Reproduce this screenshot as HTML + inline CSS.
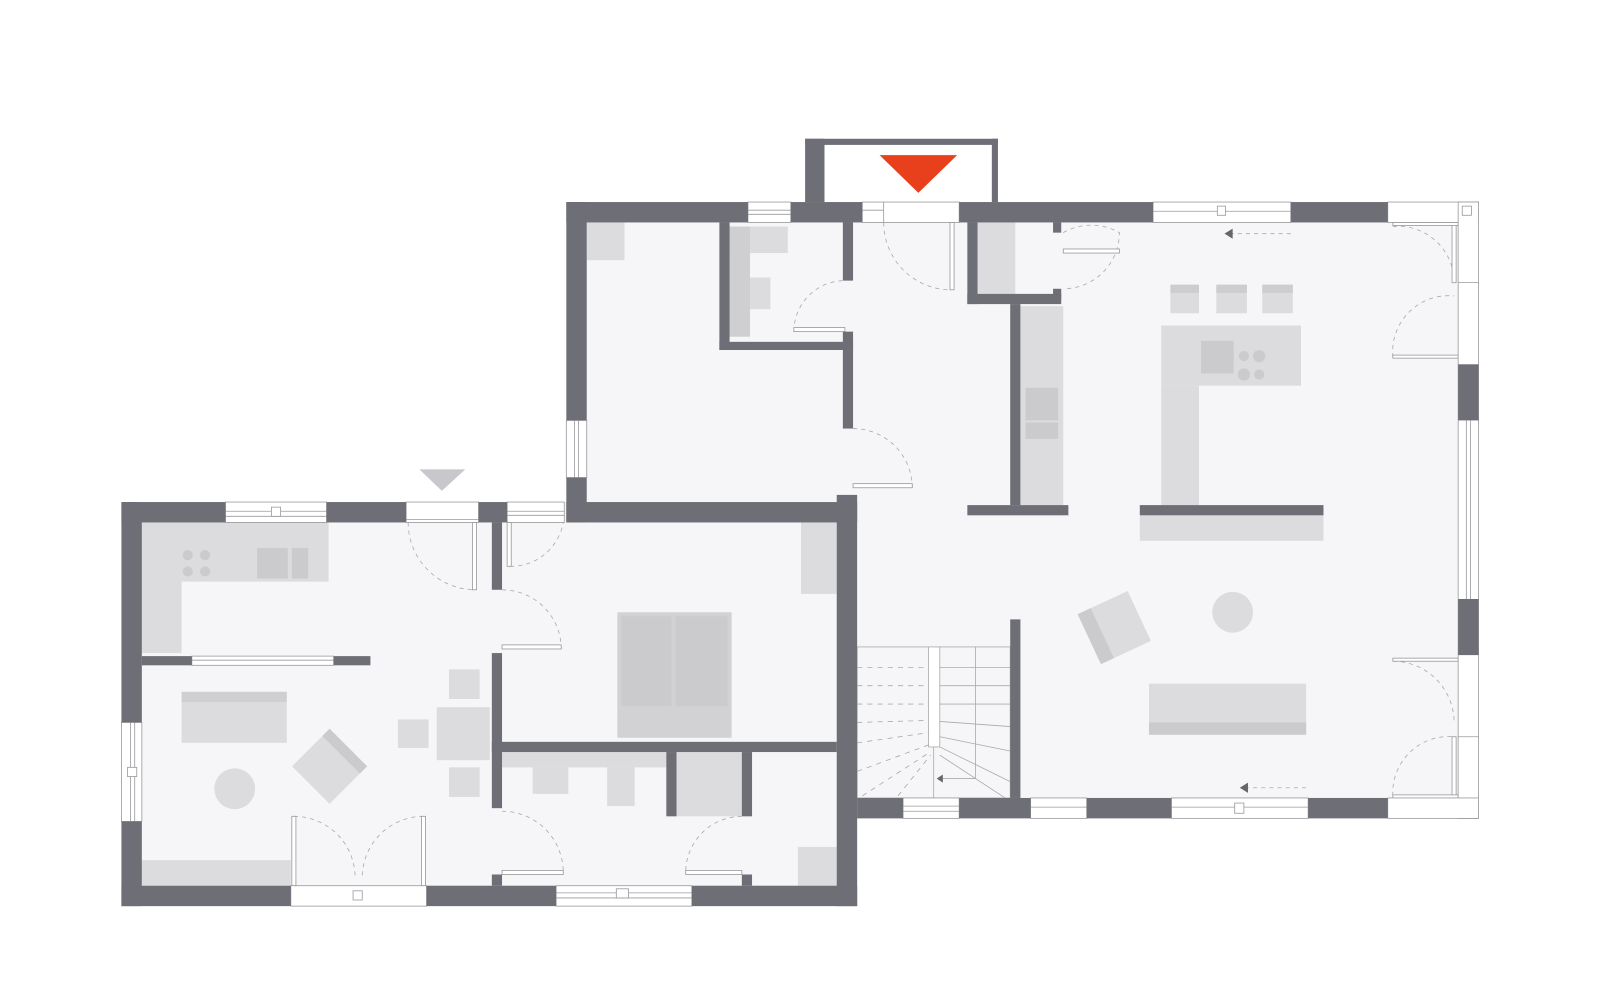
<!DOCTYPE html>
<html><head><meta charset="utf-8"><style>html,body{margin:0;padding:0;background:#fff}svg{display:block}</style></head>
<body>
<svg width="1600" height="1000" viewBox="0 0 1568 980" xmlns="http://www.w3.org/2000/svg">
<rect width="1568" height="980" fill="#fff"/>
<!-- floors -->
<polygon points="555,198 1449,198 1449,802 840,802 840,492 555,492" fill="#f6f6f8"/>
<rect x="119" y="492" width="721" height="396" fill="#f6f6f8"/>
<g fill="#dcdcdf">
<!-- upper middle -->
<rect x="575" y="218" width="37" height="37"/>
<rect x="715" y="222" width="57" height="26"/>
<rect x="715" y="222" width="20" height="108" fill="#cfcfd2"/>
<rect x="735" y="272" width="20" height="31"/>
<rect x="958" y="218" width="37" height="70"/>
<!-- kitchen right -->
<rect x="1000" y="300" width="42" height="195"/>
<rect x="1005" y="380" width="32" height="32" fill="#cbcbce"/>
<rect x="1005" y="414" width="32" height="16" fill="#cbcbce"/>
<rect x="1147" y="279" width="28" height="28"/><rect x="1147" y="279" width="28" height="8" fill="#cdcdd0"/>
<rect x="1192" y="279" width="30" height="28"/><rect x="1192" y="279" width="30" height="8" fill="#cdcdd0"/>
<rect x="1237" y="279" width="30" height="28"/><rect x="1237" y="279" width="30" height="8" fill="#cdcdd0"/>
<rect x="1138" y="319" width="137" height="59"/>
<rect x="1138" y="378" width="37" height="117"/>
<rect x="1177" y="334" width="32" height="32" fill="#cbcbce"/>
<circle cx="1219" cy="349" r="5" fill="#cbcbce"/><circle cx="1234" cy="349" r="6" fill="#cbcbce"/>
<circle cx="1219" cy="367" r="6" fill="#cbcbce"/><circle cx="1234" cy="367" r="5" fill="#cbcbce"/>
<rect x="1117" y="505" width="180" height="25"/>
<g transform="translate(1092,615) rotate(-25)"><rect x="-27" y="-27" width="54" height="54"/><rect x="-27" y="-27" width="14" height="54" fill="#cbcbce"/></g>
<circle cx="1208" cy="600" r="20"/>
<rect x="1126" y="670" width="154" height="50"/><rect x="1126" y="708" width="154" height="12" fill="#cbcbce"/>
<!-- left building -->
<rect x="139" y="512" width="183" height="58"/>
<rect x="139" y="512" width="39" height="128"/>
<circle cx="184" cy="544" r="5" fill="#cbcbce"/><circle cx="201" cy="544" r="5" fill="#cbcbce"/>
<circle cx="184" cy="560" r="5" fill="#cbcbce"/><circle cx="201" cy="560" r="5" fill="#cbcbce"/>
<rect x="252" y="537" width="30" height="30" fill="#cbcbce"/><rect x="286" y="537" width="16" height="30" fill="#cbcbce"/>
<rect x="785" y="512" width="35" height="70"/>
<rect x="605" y="600" width="112" height="123" fill="#d2d2d5"/>
<rect x="609" y="604" width="49" height="88" fill="#cbcbce"/><rect x="662" y="604" width="51" height="88" fill="#cbcbce"/>
<rect x="178" y="678" width="103" height="50"/><rect x="178" y="678" width="103" height="10" fill="#cfcfd2"/>
<g transform="translate(323,751) rotate(45)"><rect x="-26" y="-26" width="52" height="52"/><rect x="-26" y="-26" width="52" height="10" fill="#cbcbce"/></g>
<circle cx="230" cy="773" r="20"/>
<rect x="428" y="693" width="52" height="52"/>
<rect x="440" y="656" width="30" height="29"/><rect x="440" y="752" width="30" height="29"/>
<rect x="390" y="705" width="30" height="28"/>
<rect x="492" y="737" width="161" height="15"/>
<rect x="522" y="752" width="35" height="26"/>
<rect x="595" y="752" width="27" height="38"/>
<rect x="663" y="737" width="64" height="63"/>
<rect x="782" y="830" width="38" height="38"/>
<rect x="139" y="843" width="146" height="25"/>
</g>
<!-- stairs -->
<g stroke="#aaa" stroke-width="0.8" fill="none">
<rect x="840" y="634" width="150" height="148"/>
<rect x="910" y="634" width="11" height="98" fill="#fff"/>
<line x1="956" y1="634" x2="956" y2="763"/><line x1="921" y1="763" x2="956" y2="763"/>
<line x1="915" y1="732" x2="915" y2="782"/>
<line x1="921" y1="654" x2="990" y2="654"/><line x1="921" y1="672" x2="990" y2="672"/>
<line x1="921" y1="690" x2="990" y2="690"/><line x1="921" y1="707" x2="990" y2="712"/>
<line x1="921" y1="722" x2="990" y2="736"/><line x1="921" y1="732" x2="990" y2="766"/>
<line x1="921" y1="740" x2="985" y2="782"/>
<g stroke-dasharray="5,5"><line x1="840" y1="654" x2="910" y2="654"/><line x1="840" y1="672" x2="910" y2="672"/><line x1="840" y1="690" x2="910" y2="690"/><line x1="840" y1="708" x2="910" y2="706"/><line x1="840" y1="728" x2="910" y2="718"/><line x1="840" y1="756" x2="910" y2="730"/><line x1="845" y1="780" x2="910" y2="738"/><line x1="880" y1="780" x2="912" y2="740"/></g>
</g>
<polygon points="918,763 924,759 924,767" fill="#666"/>
<!-- door arcs -->
<g fill="none" stroke="#aaa" stroke-width="0.8" stroke-dasharray="4,4">
<path d="M866,218 A66,66 0 0 0 932,284"/>
<path d="M1042,228 A55,55 0 0 1 1097,228 A55,55 0 0 1 1042,283"/>
<path d="M778,325 A50,50 0 0 1 828,275"/>
<path d="M836,420 A58,58 0 0 1 894,478"/>
<path d="M400,512 A66,66 0 0 0 466,578"/>
<path d="M500,555 A52,52 0 0 0 552,512"/>
<path d="M492,578 A58,58 0 0 1 550,636"/>
<path d="M288,800 A60,60 0 0 1 348,860"/>
<path d="M415,800 A60,60 0 0 0 355,860"/>
<path d="M492,795 A60,60 0 0 1 552,855"/>
<path d="M727,800 A55,55 0 0 0 672,855"/>
<path d="M1365,222 A55,55 0 0 1 1425,275"/>
<path d="M1365,350 A55,55 0 0 1 1425,290"/>
<path d="M1365,648 A60,60 0 0 1 1425,708"/>
<path d="M1365,780 A55,55 0 0 1 1425,722"/>
<path d="M1205,229 L1265,229"/><path d="M1220,772 L1280,772"/>
</g>
<polygon points="1200,229 1208,224 1208,234" fill="#666"/>
<polygon points="1215,772 1223,767 1223,777" fill="#666"/>
<g fill="#fff" stroke="#999" stroke-width="0.8">
<rect x="931" y="218" width="4" height="66"/><rect x="463" y="512" width="4" height="66"/>
<rect x="497" y="512" width="4" height="43"/><rect x="1042" y="244" width="55" height="4"/>
<rect x="778" y="321" width="50" height="4"/><rect x="836" y="474" width="58" height="4"/>
<rect x="492" y="632" width="58" height="4"/><rect x="286" y="800" width="4" height="68"/><rect x="413" y="800" width="4" height="68"/>
<rect x="492" y="853" width="60" height="4"/><rect x="672" y="853" width="55" height="4"/>
<rect x="1423" y="215" width="4" height="62"/><rect x="1365" y="348" width="64" height="3"/><rect x="1365" y="645" width="64" height="3"/><rect x="1423" y="722" width="4" height="60"/>
<rect x="1365" y="218" width="64" height="3"/><rect x="1365" y="779" width="64" height="3"/>
</g>
<!-- windows (light gaps) -->
<g fill="#fff" stroke="#9a9a9e" stroke-width="0.8">
<rect x="733" y="198" width="42" height="20"/><line x1="733" y1="206" x2="775" y2="206"/><line x1="733" y1="210" x2="775" y2="210"/>
<rect x="845" y="198" width="95" height="20"/><line x1="845" y1="206" x2="866" y2="206"/><line x1="866" y1="198" x2="866" y2="218"/>
<rect x="1130" y="198" width="135" height="20"/><line x1="1130" y1="207" x2="1265" y2="207"/><rect x="1193" y="202" width="8" height="9"/>
<rect x="1360" y="198" width="89" height="20"/>
<rect x="1429" y="198" width="20" height="604"/>
<line x1="1429" y1="277" x2="1449" y2="277"/><line x1="1429" y1="722" x2="1449" y2="722"/>
<line x1="1437" y1="412" x2="1437" y2="587"/><line x1="1441" y1="412" x2="1441" y2="587"/>
<rect x="1433" y="202" width="9" height="9"/><rect x="1433" y="789" width="9" height="9"/>
<rect x="1360" y="782" width="89" height="20"/>
<rect x="885" y="782" width="55" height="20"/><line x1="885" y1="790" x2="940" y2="790"/><line x1="885" y1="795" x2="940" y2="795"/>
<rect x="1010" y="782" width="55" height="20"/><line x1="1010" y1="791" x2="1065" y2="791"/>
<rect x="1148" y="782" width="134" height="20"/><line x1="1148" y1="791" x2="1282" y2="791"/><rect x="1210" y="787" width="9" height="10"/>
<rect x="555" y="412" width="20" height="56"/><line x1="563" y1="412" x2="563" y2="468"/><line x1="567" y1="412" x2="567" y2="468"/>
<rect x="221" y="492" width="99" height="20"/><line x1="221" y1="501" x2="320" y2="501"/><line x1="221" y1="506" x2="320" y2="506"/><rect x="266" y="497" width="9" height="9"/>
<rect x="398" y="492" width="71" height="20"/><line x1="398" y1="509" x2="469" y2="509"/>
<rect x="497" y="492" width="56" height="20"/><line x1="497" y1="501" x2="553" y2="501"/><line x1="497" y1="505" x2="553" y2="505"/>
<rect x="119" y="708" width="20" height="97"/><line x1="128" y1="708" x2="128" y2="805"/><line x1="132" y1="708" x2="132" y2="805"/><rect x="125" y="752" width="9" height="9"/>
<rect x="285" y="868" width="133" height="20"/><rect x="346" y="873" width="9" height="9"/>
<rect x="545" y="868" width="133" height="20"/><line x1="545" y1="875" x2="678" y2="875"/><line x1="545" y1="880" x2="678" y2="880"/><rect x="604" y="871" width="12" height="9"/>
<rect x="188" y="643" width="139" height="9"/><line x1="188" y1="647" x2="327" y2="647"/>
</g>
<!-- walls -->
<g fill="#6e6e76">
<!-- porch -->
<rect x="789" y="136" width="19" height="62"/><rect x="789" y="136" width="189" height="6"/><rect x="972" y="136" width="6" height="62"/>
<!-- top wall upper -->
<rect x="555" y="198" width="178" height="20"/><rect x="775" y="198" width="70" height="20"/>
<rect x="940" y="198" width="190" height="20"/><rect x="1265" y="198" width="95" height="20"/>
<rect x="1429" y="357" width="20" height="55"/><rect x="1429" y="587" width="20" height="55"/>
<rect x="840" y="782" width="45" height="20"/><rect x="940" y="782" width="70" height="20"/><rect x="1065" y="782" width="83" height="20"/><rect x="1282" y="782" width="78" height="20"/>
<rect x="555" y="198" width="20" height="214"/><rect x="555" y="468" width="20" height="44"/>
<rect x="555" y="492" width="285" height="20"/>
<rect x="820" y="485" width="20" height="403"/>
<rect x="990" y="607" width="10" height="175"/>
<!-- upper interior -->
<rect x="705" y="218" width="10" height="125"/><rect x="705" y="335" width="131" height="8"/>
<rect x="826" y="218" width="10" height="57"/><rect x="826" y="325" width="10" height="95"/>
<rect x="948" y="218" width="10" height="80"/><rect x="948" y="288" width="92" height="10"/>
<rect x="1032" y="218" width="8" height="10"/><rect x="1032" y="283" width="8" height="10"/>
<rect x="990" y="298" width="10" height="197"/><rect x="948" y="495" width="99" height="10"/>
<rect x="1117" y="495" width="180" height="10"/>
<!-- left building -->
<rect x="119" y="492" width="102" height="20"/><rect x="320" y="492" width="78" height="20"/><rect x="469" y="492" width="28" height="20"/>
<rect x="119" y="492" width="20" height="216"/><rect x="119" y="805" width="20" height="83"/>
<rect x="119" y="868" width="166" height="20"/><rect x="418" y="868" width="127" height="20"/><rect x="678" y="868" width="162" height="20"/>
<rect x="139" y="643" width="49" height="9"/><rect x="327" y="643" width="36" height="9"/>
<rect x="482" y="512" width="10" height="66"/><rect x="482" y="640" width="10" height="152"/>
<rect x="482" y="727" width="338" height="10"/>
<rect x="653" y="737" width="10" height="63"/><rect x="727" y="737" width="10" height="63"/>
<rect x="482" y="857" width="10" height="11"/><rect x="727" y="857" width="10" height="11"/>
</g>
<!-- entry markers -->
<polygon points="862,152 938,152 900,189" fill="#e8401c"/>
<polygon points="411,460 456,460 433,481" fill="#c8c8cc"/>
</svg>
</body></html>
